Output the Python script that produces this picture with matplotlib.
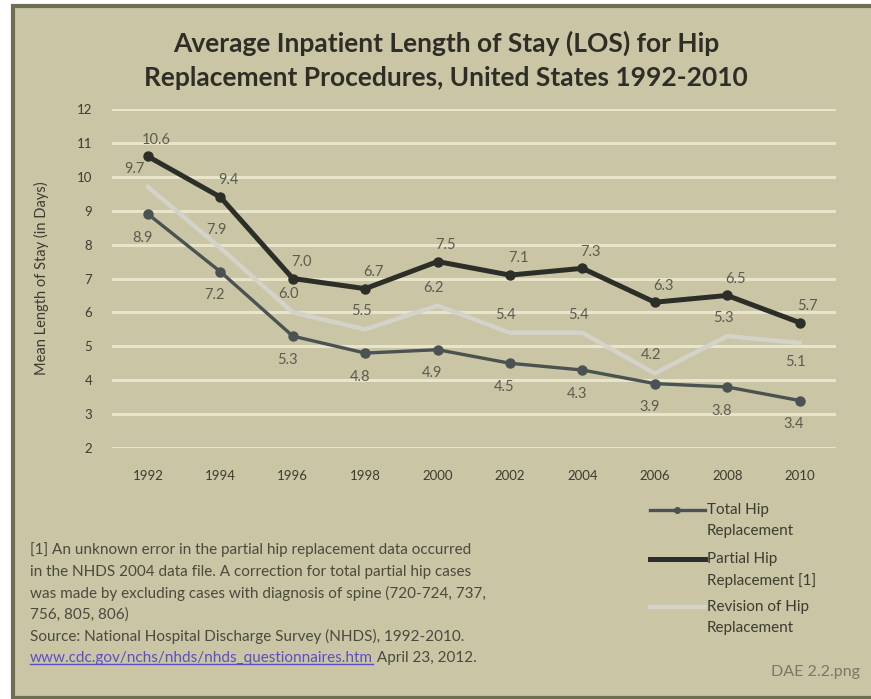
import matplotlib.pyplot as plt
from matplotlib.patches import Rectangle
from matplotlib.lines import Line2D

plt.rcParams['font.family'] = ['Lato', 'DejaVu Sans']

years = ['1992', '1994', '1996', '1998', '2000', '2002', '2004', '2006', '2008', '2010']
total_hip = [8.9, 7.2, 5.3, 4.8, 4.9, 4.5, 4.3, 3.9, 3.8, 3.4]
partial_hip = [10.6, 9.4, 7.0, 6.7, 7.5, 7.1, 7.3, 6.3, 6.5, 5.7]
revision_hip = [9.7, 7.9, 6.0, 5.5, 6.2, 5.4, 5.4, 4.2, 5.3, 5.1]
series_names = ['Total Hip\nReplacement', 'Partial Hip\nReplacement [1]',
                'Revision of Hip\nReplacement']

bg = '#c9c5a5'
grid_col = '#e8e5cb'
text_col = '#3c3c30'
W, H = 871, 699

fig = plt.figure(figsize=(W / 100, H / 100), dpi=100, facecolor='white')
# khaki panel with a dark olive frame
fig.patches.append(Rectangle((13 / W, 0.002), 1.0, 1 - 6 / H - 0.002,
                             transform=fig.transFigure, facecolor=bg,
                             edgecolor='#6f6d52', linewidth=3, zorder=0))

ax = fig.add_axes([111.8 / W, 1 - 448 / H, 724 / W, 339 / H])
ax.set_zorder(2)
ax.set_facecolor('none')
x = list(range(len(years)))

ax.plot(x, revision_hip, color='#d4d3c9', lw=3.2, solid_joinstyle='round', zorder=2)
ax.plot(x, total_hip, color='#4a5352', lw=2.4, marker='o', ms=6.5, zorder=3)
ax.plot(x, partial_hip, color='#2c2f28', lw=3.6, marker='o', ms=6.5, zorder=4)

lab_kw = dict(textcoords='offset points', ha='center', fontsize=10.5, color='#5c5c50')
for i, v in enumerate(total_hip):
    ax.annotate(f'{v:.1f}', (i, v), xytext=(-4, -22), va='bottom', **lab_kw)
for i, v in enumerate(partial_hip):
    ax.annotate(f'{v:.1f}', (i, v), xytext=(6, 7), va='bottom', **lab_kw)
for i, v in enumerate(revision_hip):
    dy = -19 if i == len(revision_hip) - 1 else 8
    dx = -10 if i == 0 else -3
    ax.annotate(f'{v:.1f}', (i, v), xytext=(dx, dy), va='bottom', **lab_kw)

ax.set_xlim(-0.5, 9.5)
ax.set_ylim(2, 12)
ax.set_yticks(range(2, 13))
ax.set_xticks(x)
ax.set_xticklabels(years)
ax.tick_params(axis='both', length=0, labelsize=9.5, labelcolor=text_col)
ax.tick_params(axis='x', pad=16)
ax.tick_params(axis='y', pad=14)
ax.grid(axis='y', color=grid_col, lw=2.2)
ax.set_axisbelow(True)
for s in ax.spines.values():
    s.set_visible(False)
ax.set_ylabel('Mean Length of Stay (in Days)', fontsize=10.5, color=text_col, labelpad=20)

fig.text(446 / W, 1 - 60 / H, 'Average Inpatient Length of Stay (LOS) for Hip\n'
         'Replacement Procedures, United States 1992-2010',
         ha='center', va='center', fontsize=19, fontweight='bold',
         color='#2e2e26', linespacing=1.5)

# legend drawn by hand: handle level with the first line of each label
leg_styles = [dict(color='#4a5352', lw=2.4, marker='o', ms=4, markevery=[1]),
              dict(color='#2c2f28', lw=3.6),
              dict(color='#d4d3c9', lw=3.2)]
for k, (name, st) in enumerate(zip(series_names, leg_styles)):
    y0 = 1 - (510 + 48.5 * k) / H
    fig.add_artist(Line2D([650 / W, 677 / W, 705 / W], [y0] * 3, **st))
    fig.text(707 / W, y0 + 7 / H, name, fontsize=11, color=text_col, va='top',
             linespacing=1.65)

notes = ['[1] An unknown error in the partial hip replacement data occurred',
         'in the NHDS 2004 data file. A correction for total partial hip cases',
         'was made by excluding cases with diagnosis of spine (720-724, 737,',
         '756, 805, 806)',
         'Source: National Hospital Discharge Survey (NHDS), 1992-2010.']
fs_note = 11
for k, line in enumerate(notes):
    fig.text(30 / W, 1 - (550 + 21.6 * k) / H, line, fontsize=fs_note,
             color='#4a4a3e', va='center')
url = fig.text(30 / W, 1 - 658 / H, 'www.cdc.gov/nchs/nhds/nhds_questionnaires.htm',
               fontsize=fs_note, color='#5a4fc8', va='center')
fig.canvas.draw()
bb = url.get_window_extent()
fig.add_artist(Line2D([bb.x0 / W, bb.x1 / W], [(bb.y0 + 1) / H] * 2,
                      color='#5a4fc8', lw=1))
fig.text(bb.x1 / W, 1 - 658 / H, ' April 23, 2012.', fontsize=fs_note,
         color='#4a4a3e', va='center')

fig.text(860 / W, 1 - 672 / H, 'DAE 2.2.png', fontsize=11.5, color='#7a7868',
         ha='right', va='center')

fig.savefig('out.png', dpi=100, facecolor='white')
